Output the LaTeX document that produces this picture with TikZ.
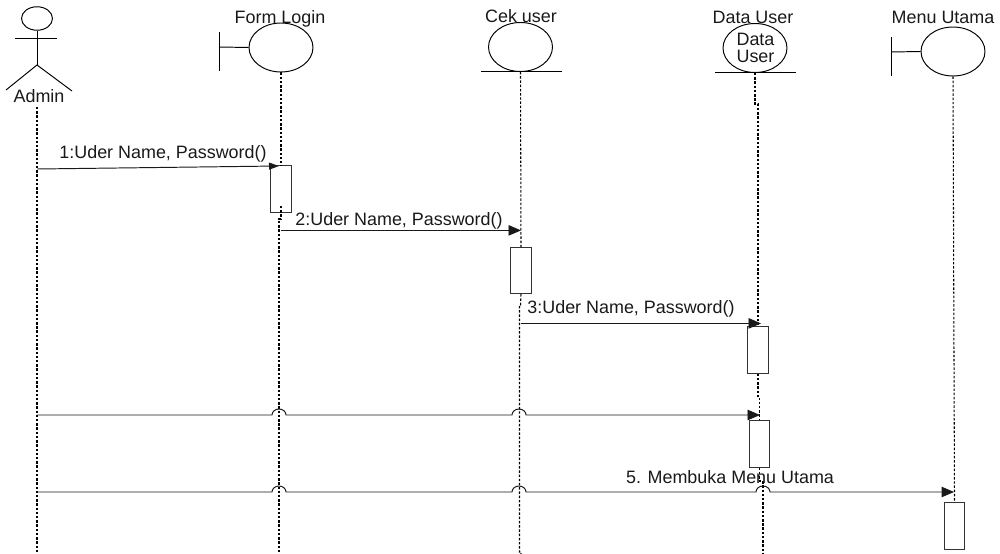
\documentclass[tikz,border=0pt]{standalone}
\usepackage{fontspec}
\setmainfont{Liberation Sans}
\usetikzlibrary{arrows.meta,positioning,shapes.geometric}
\tikzset{
  objround/.style={ellipse,draw,minimum width=1.28cm,minimum height=0.98cm,inner sep=0pt,line width=0.55pt},
  objlabel/.style={inner sep=0pt,font=\fontsize{10.2}{12}\selectfont,text=black!90},
  actbox/.style={rectangle,draw=black!80,fill=white,minimum width=0.41cm,minimum height=0.93cm,inner sep=0pt,line width=0.55pt},
  lifeline/.style={line width=0.6pt,dash pattern=on 1.4pt off 1pt,black},
  thinline/.style={line width=0.55pt},
  msgarrow/.style={-{Triangle[length=0.25cm,width=0.21cm]},line width=0.55pt,black!90}
}
\begin{document}
\begin{tikzpicture}[x=0.02cm,y=-0.02cm]
  \useasboundingbox (0,0) rectangle (1000,554);
  % actor
  \node[ellipse,draw,minimum width=0.62cm,minimum height=0.47cm,inner sep=0pt,line width=0.55pt] (adminHead) at (37,18.5) {};
  \coordinate (adminHip) at (37,65);
  \coordinate (armL) at (15,38.5);
  \coordinate (armR) at (57,38.5);
  \coordinate (legL) at (6,90);
  \coordinate (legR) at (72,91);
  \draw[thinline] (adminHead) -- (adminHip);
  \draw[thinline] (armL) -- (armR);
  \draw[thinline] (legL) -- (adminHip) -- (legR);
  \node[objlabel] (adminLabel) at (39,96) {Admin};
  % objects
  \node[objround] (formLogin) at (281,47.5) {};
  \node[objround] (cekUser) at (520.5,47) {};
  \node[objround] (dataUser) at (755,48) {};
  \node[objround] (menuUtama) at (953,51.5) {};
  \node[objlabel] (formLabel) at (280,18.5) {Form Login};
  \node[objlabel] (cekLabel) at (521,16.5) {Cek user};
  \node[objlabel] (dataLabel) at (753,17) {Data User};
  \node[objlabel] (menuLabel) at (943,17) {Menu Utama};
  \node[objlabel] (dataInnerA) at (755.5,39) {Data};
  \node[objlabel] (dataInnerB) at (755.5,56) {User};
  % boundary bars and base lines
  \coordinate (formBarT) at (219,32);
  \coordinate (formBarB) at (219,71);
  \coordinate (formBarM) at (219,47);
  \coordinate (menuBarT) at (891,37);
  \coordinate (menuBarB) at (891,76);
  \coordinate (menuBarM) at (891,52);
  \coordinate (cekBaseL) at (481,71.5);
  \coordinate (cekBaseR) at (562,71.5);
  \coordinate (dataBaseL) at (715,72.5);
  \coordinate (dataBaseR) at (796,72.5);
  \draw[thinline] (formBarT) -- (formBarB);
  \draw[thinline] (formBarM) -- (formLogin.west);
  \draw[thinline] (menuBarT) -- (menuBarB);
  \draw[thinline] (menuBarM) -- (menuUtama.west);
  \draw[thinline] (cekBaseL) -- (cekBaseR);
  \draw[thinline] (dataBaseL) -- (dataBaseR);
  % activation boxes
  \node[actbox] (boxLogin) at (281,189) {};
  \node[actbox] (boxCek) at (521,270.5) {};
  \node[actbox] (boxData) at (758,350) {};
  \node[actbox] (boxDataB) at (759.5,444) {};
  \node[actbox] (boxMenu) at (954.5,526) {};
  % lifelines
  \draw[lifeline] (37,107) -- (37,554);
  \draw[lifeline] (formLogin.south) -- (boxLogin.north);
  \draw[lifeline] (281,206) -- (281,219) -- (279,219) -- (279,554);
  \draw[lifeline] (cekUser.south) -- (boxCek.north);
  \draw[lifeline] (boxCek.south) -- (520.5,305) -- (519.5,305) -- (519.5,552) -- (521,552) -- (521,554);
  \draw[lifeline] (dataUser.south) -- (755,104) -- (758,104) -- (boxData.north);
  \draw[lifeline] (boxData.south) -- (758,396) -- (759.5,396) -- (boxDataB.north);
  \draw[lifeline] (boxDataB.south) -- (759.5,481) -- (763,481) -- (763,554);
  \draw[lifeline] (menuUtama.south) -- (boxMenu.north);
  % messages
  \coordinate (msgA) at (37,169);
  \coordinate (msgAend) at (279,166);
  \coordinate (msgB) at (281,230.4);
  \coordinate (msgBend) at (521,230.4);
  \coordinate (msgC) at (520.5,323.4);
  \coordinate (msgCend) at (761,323.4);
  \coordinate (msgD) at (37,415);
  \coordinate (msgDend) at (760,415);
  \coordinate (msgE) at (37,492);
  \coordinate (msgEend) at (954,492);
  \draw[-{Triangle[length=0.2cm,width=0.14cm]},line width=0.55pt,black!90] (msgA) -- (msgAend);
  \draw[msgarrow] (msgB) -- (msgBend);
  \draw[msgarrow] (msgC) -- (msgCend);
  \draw[msgarrow] (msgD) -- (272,415) arc[start angle=180,end angle=0,x radius=0.14cm,y radius=0.12cm] -- (512,415) arc[start angle=180,end angle=0,x radius=0.14cm,y radius=0.12cm] -- (msgDend);
  \draw[msgarrow] (msgE) -- (272,492) arc[start angle=180,end angle=0,x radius=0.14cm,y radius=0.12cm] -- (512,492) arc[start angle=180,end angle=0,x radius=0.14cm,y radius=0.12cm] -- (756,492) arc[start angle=180,end angle=0,x radius=0.14cm,y radius=0.12cm] -- (msgEend);
  \node[objlabel] (msgAlabel) at (163,153.5) {1:Uder Name, Password()};
  \node[objlabel] (msgBlabel) at (399,220.5) {2:Uder Name, Password()};
  \node[objlabel] (msgClabel) at (631,308.5) {3:Uder Name, Password()};
  \node[objlabel] (msgElabel) at (730,477) {5. Membuka Menu Utama};
\end{tikzpicture}
\end{document}
